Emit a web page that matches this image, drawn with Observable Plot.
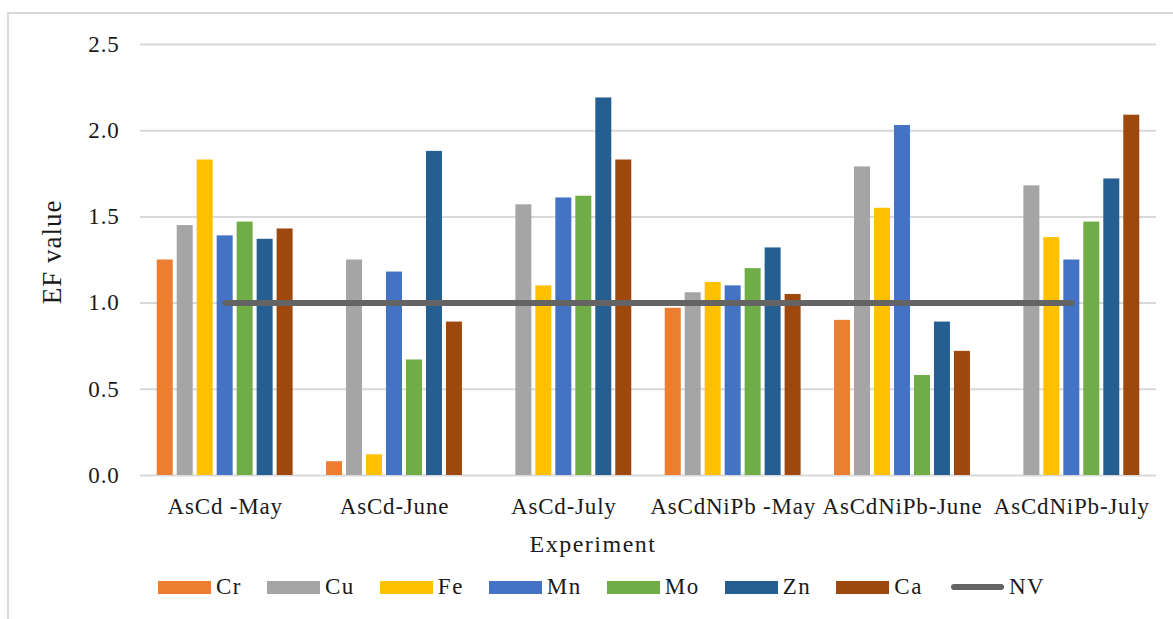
<!DOCTYPE html>
<html>
<head>
<meta charset="utf-8">
<script src="https://cdn.jsdelivr.net/npm/d3@7"></script>
<script src="https://cdn.jsdelivr.net/npm/@observablehq/plot@0.6"></script>
<style>
  html, body { margin: 0; padding: 0; background: #fff; overflow: hidden; }
  #wrap { position: relative; width: 1173px; height: 619px; overflow: hidden; font-family: "Liberation Serif", "Times New Roman", serif; color: #1a1a1a; }
  #frame { position: absolute; left: 7px; top: 12px; width: 1300px; height: 700px; border-left: 2px solid #d9d9d9; border-top: 2px solid #d9d9d9; pointer-events: none; }
  #chart { position: absolute; left: 0; top: 0; }
  .title { position: absolute; white-space: nowrap; line-height: 1; }
  #ytitle { left: 52px; top: 252px; font-size: 27px; letter-spacing: 1px; transform: translate(-50%, -50%) rotate(-90deg); }
  #xtitle { left: 593px; top: 532px; font-size: 24px; letter-spacing: 1.5px; transform: translateX(-50%); }
  #legend { position: absolute; left: 158px; top: 574px; display: flex; align-items: center; gap: 25px; font-size: 23px; letter-spacing: 1.5px; }
  .item { display: flex; align-items: center; }
  .sw { width: 53px; height: 13px; margin-right: 5px; }
  .ln { width: 53px; height: 6px; border-radius: 3px; margin-right: 5px; margin-left: 3px; }
</style>
</head>
<body>
<div id="wrap">
  <div id="chart"></div>
  <div id="frame"></div>
  <div id="ytitle" class="title">EF value</div>
  <div id="xtitle" class="title">Experiment</div>
  <div id="legend"></div>
</div>
<script>
// Enrichment factor per element for each experiment run
const experiments = ["AsCd -May", "AsCd-June", "AsCd-July", "AsCdNiPb -May", "AsCdNiPb-June", "AsCdNiPb-July"];
const elements = ["Cr", "Cu", "Fe", "Mn", "Mo", "Zn", "Ca"];
const colors = ["#ED7D31", "#A5A5A5", "#FFC000", "#4472C4", "#70AD47", "#255E91", "#9E480E"];

const Cr = [1.25, 0.08, null, 0.97, 0.90, null];
const Cu = [1.45, 1.25, 1.57, 1.06, 1.79, 1.68];
const Fe = [1.83, 0.12, 1.10, 1.12, 1.55, 1.38];
const Mn = [1.39, 1.18, 1.61, 1.10, 2.03, 1.25];
const Mo = [1.47, 0.67, 1.62, 1.20, 0.58, 1.47];
const Zn = [1.37, 1.88, 2.19, 1.32, 0.89, 1.72];
const Ca = [1.43, 0.89, 1.83, 1.05, 0.72, 2.09];
// Normal value reference line
const NV = [1, 1, 1, 1, 1, 1];

const yTicks = [0, 0.5, 1.0, 1.5, 2.0, 2.5];

const series = [Cr, Cu, Fe, Mn, Mo, Zn, Ca];
const rows = [];
experiments.forEach((exp, i) => {
  elements.forEach((el, j) => {
    const v = series[j][i];
    if (v != null) rows.push({exp, i, el, j, v});
  });
});
const nvRows = NV.map((v, i) => ({i, v}));

// clustered bars: positions within each experiment slot, in slot units
const barStep = 0.118;
const barWidth = 0.0945;
const slot = d => d.i + (d.j - (elements.length - 1) / 2) * barStep;

const chart = Plot.plot({
  width: 1173,
  height: 540,
  marginLeft: 140,
  marginRight: 17,
  marginTop: 44,
  marginBottom: 65,
  style: {fontFamily: "'Liberation Serif', 'Times New Roman', serif", fontSize: "23px", color: "#1a1a1a", letterSpacing: "0.8px", background: "transparent"},
  x: {type: "linear", domain: [-0.5, experiments.length - 0.5]},
  y: {domain: [0, 2.5]},
  color: {domain: elements, range: colors},
  marks: [
    Plot.gridY(yTicks, {stroke: "#d9d9d9", strokeOpacity: 1, strokeWidth: 2}),
    Plot.rectY(rows, {
      x1: d => slot(d) - barWidth / 2,
      x2: d => slot(d) + barWidth / 2,
      y1: 0,
      y2: "v",
      fill: "el"
    }),
    Plot.lineY(nvRows, {x: "i", y: "v", stroke: "#646464", strokeWidth: 6, strokeLinecap: "round"}),
    Plot.axisX({ticks: d3.range(experiments.length), tickFormat: i => experiments[i], tickSize: 0, tickPadding: 22, label: null}),
    Plot.axisY({ticks: yTicks, tickFormat: d3.format(".1f"), tickSize: 0, tickPadding: 21, label: null})
  ]
});
document.getElementById("chart").appendChild(chart);

// legend
const legend = document.getElementById("legend");
elements.forEach((el, j) => {
  const item = document.createElement("div");
  item.className = "item";
  item.innerHTML = `<span class="sw" style="background:${colors[j]}"></span><span>${el}</span>`;
  legend.appendChild(item);
});
const nvItem = document.createElement("div");
nvItem.className = "item";
nvItem.innerHTML = `<span class="ln" style="background:#646464"></span><span>NV</span>`;
legend.appendChild(nvItem);
</script>
</body>
</html>
